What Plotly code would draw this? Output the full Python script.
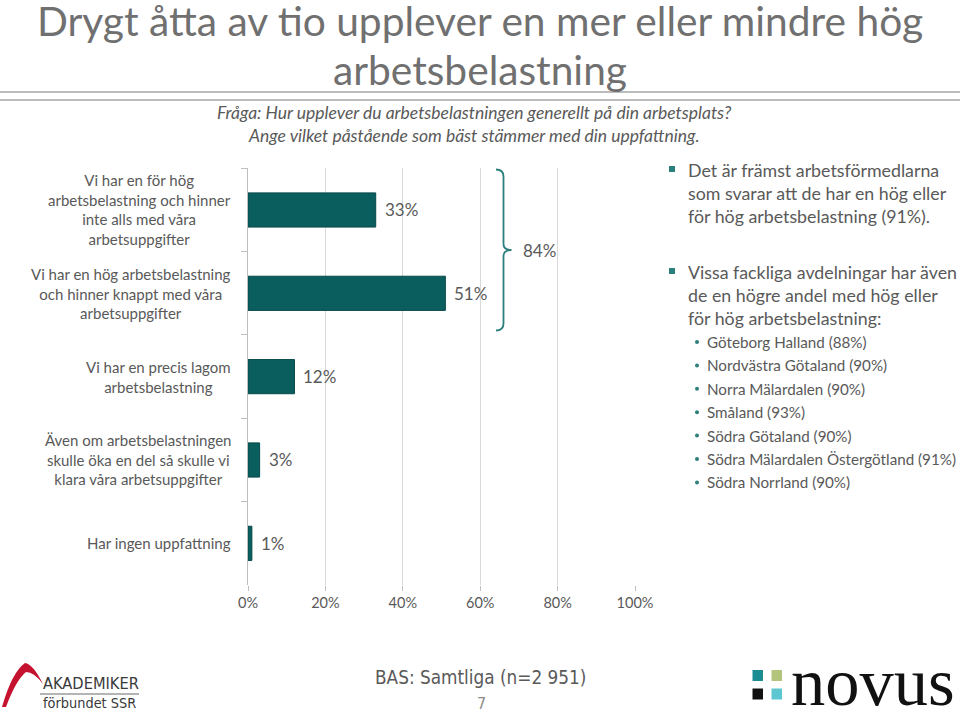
import plotly.graph_objects as go

W, H = 960, 714

categories = [
    "Vi har en för hög<br>arbetsbelastning och hinner<br>inte alls med våra<br>arbetsuppgifter",
    "Vi har en hög arbetsbelastning<br>och hinner knappt med våra<br>arbetsuppgifter",
    "Vi har en precis lagom<br>arbetsbelastning",
    "Även om arbetsbelastningen<br>skulle öka en del så skulle vi<br>klara våra arbetsuppgifter",
    "Har ingen uppfattning",
]
values = [33, 51, 12, 3, 1]
value_labels = ["33%", "51%", "12%", "3%", "1%"]
x_ticks = [0, 20, 40, 60, 80, 100]
x_tick_labels = ["0%", "20%", "40%", "60%", "80%", "100%"]
bracket_label = "84%"

title_lines = ["Drygt åtta av tio upplever en mer eller mindre hög", "arbetsbelastning"]
subtitle_lines = ["Fråga: Hur upplever du arbetsbelastningen generellt på din arbetsplats?",
                  "Ange vilket påstående som bäst stämmer med din uppfattning."]
bullet1 = ["Det är främst arbetsförmedlarna", "som svarar att de har en hög eller",
           "för hög arbetsbelastning (91%)."]
bullet2 = ["Vissa fackliga avdelningar har även", "de en högre andel med hög eller",
           "för hög arbetsbelastning:"]
sub_bullets = ["Göteborg Halland (88%)", "Nordvästra Götaland (90%)", "Norra Mälardalen (90%)",
               "Småland (93%)", "Södra Götaland (90%)", "Södra Mälardalen Östergötland (91%)",
               "Södra Norrland (90%)"]
base_text = "BAS: Samtliga (n=2 951)"
page_no = "7"

FONT = "Lato"
NARROW = "Liberation Sans Narrow, DejaVu Sans Condensed"
GRAY = "#595959"
TEAL = "#0B5E5E"
TEAL_LINE = "#074848"
ACCENT = "#2B7F7C"


def px(x):
    return x / W


def py(y):
    return 1 - y / H


fig = go.Figure()
fig.add_trace(go.Bar(
    x=values, y=categories, orientation="h",
    marker=dict(color=TEAL, line=dict(color=TEAL_LINE, width=1)),
    hoverinfo="skip", showlegend=False,
))

ann = []
shapes = []

# category labels (centered lines, right edge at the axis)
for c in categories:
    ann.append(dict(x=px(233), xref="paper", y=c, yref="y", text=c, showarrow=False,
                    xanchor="right", yanchor="middle", align="center",
                    font=dict(family=FONT, size=15, color=GRAY)))
# value labels
for c, v, t in zip(categories, values, value_labels):
    ann.append(dict(x=v, xref="x", y=c, yref="y", text=t, showarrow=False,
                    xanchor="left", yanchor="middle", xshift=7,
                    font=dict(family=FONT, size=17, color=GRAY)))

# title
for i, t in enumerate(title_lines):
    ann.append(dict(x=px(480), xref="paper", y=py(20 + 49.5 * i), yref="paper", text=t, showarrow=False,
                    xanchor="center", yanchor="middle",
                    font=dict(family=FONT, size=40.7, color="#707070")))
for yy in (92, 100):
    shapes.append(dict(type="line", xref="paper", yref="paper", x0=0, x1=1, y0=py(yy), y1=py(yy),
                       line=dict(color="#A6A6A6", width=1.5)))
for i, t in enumerate(subtitle_lines):
    ann.append(dict(x=px(474), xref="paper", y=py(112 + 23 * i), yref="paper",
                    text="<i>" + t + "</i>", showarrow=False, xanchor="center", yanchor="middle",
                    font=dict(family=FONT, size=17.5, color=GRAY)))

# bracket
bx, btop, bbot, bmid = 503.5, 169.5, 330.5, 250
path = (f"M {px(496)},{py(btop)} Q {px(bx)},{py(btop)} {px(bx)},{py(btop+7)} "
        f"L {px(bx)},{py(bmid-6)} Q {px(bx)},{py(bmid)} {px(511.5)},{py(bmid)} "
        f"Q {px(bx)},{py(bmid)} {px(bx)},{py(bmid+6)} "
        f"L {px(bx)},{py(bbot-7)} Q {px(bx)},{py(bbot)} {px(496)},{py(bbot)}")
shapes.append(dict(type="path", xref="paper", yref="paper", path=path,
                   line=dict(color=ACCENT, width=1.8)))
ann.append(dict(x=px(521), xref="paper", y=py(251), yref="paper", text=bracket_label,
                showarrow=False, xanchor="left", yanchor="middle",
                font=dict(family=FONT, size=17, color=GRAY)))

# right-hand text
for block, y0 in ((bullet1, 170), (bullet2, 272)):
    shapes.append(dict(type="rect", xref="paper", yref="paper", x0=px(669), x1=px(675),
                       y0=py(y0 + 2), y1=py(y0 - 4), fillcolor=ACCENT, line=dict(width=0)))
    for i, t in enumerate(block):
        ann.append(dict(x=px(686), xref="paper", y=py(y0 + 23 * i), yref="paper", text=t,
                        showarrow=False, xanchor="left", yanchor="middle",
                        font=dict(family=FONT, size=17.8, color=GRAY)))
for i, t in enumerate(sub_bullets):
    yy = 342 + 23.4 * i
    shapes.append(dict(type="circle", xref="paper", yref="paper", x0=px(695), x1=px(699),
                       y0=py(yy + 2), y1=py(yy - 2), fillcolor=ACCENT, line=dict(width=0)))
    ann.append(dict(x=px(705), xref="paper", y=py(yy), yref="paper", text=t,
                    showarrow=False, xanchor="left", yanchor="middle",
                    font=dict(family=FONT, size=15.2, color=GRAY)))

# footer
ann.append(dict(x=px(480), xref="paper", y=py(677), yref="paper", text=base_text, showarrow=False,
                xanchor="center", yanchor="middle",
                font=dict(family=NARROW, size=18.8, color=GRAY)))
ann.append(dict(x=px(481), xref="paper", y=py(703), yref="paper", text=page_no, showarrow=False,
                xanchor="center", yanchor="middle",
                font=dict(family=NARROW, size=16, color="#8C8C8C")))

# Akademiker logo
swoosh = (f"M {px(2)},{py(707)} Q {px(12)},{py(672)} {px(25)},{py(663)} "
          f"Q {px(33)},{py(664)} {px(43)},{py(684)} Q {px(34)},{py(672)} {px(26)},{py(672)} "
          f"Q {px(16)},{py(680)} {px(6)},{py(707)} Z")
shapes.append(dict(type="path", xref="paper", yref="paper", path=swoosh,
                   fillcolor="#C4122F", line=dict(width=0)))
ann.append(dict(x=px(41), xref="paper", y=py(683), yref="paper", text="AKADEMIKER", showarrow=False,
                xanchor="left", yanchor="middle",
                font=dict(family=NARROW, size=16.3, color="#3A3A3A")))
shapes.append(dict(type="line", xref="paper", yref="paper", x0=px(40), x1=px(139), y0=py(694), y1=py(694),
                   line=dict(color="#6A6A6A", width=1)))
ann.append(dict(x=px(41), xref="paper", y=py(703), yref="paper", text="förbundet SSR", showarrow=False,
                xanchor="left", yanchor="middle",
                font=dict(family=NARROW, size=14.4, color="#3A3A3A")))

# Novus logo
for (x0, y0, col) in ((752.5, 670, "#1B8C91"), (771.5, 670, "#B3C47C"),
                      (752.5, 688.5, "#111111"), (771.5, 688.5, "#5CC6D1")):
    shapes.append(dict(type="rect", xref="paper", yref="paper", x0=px(x0), x1=px(x0 + 10.5),
                       y0=py(y0 + 11), y1=py(y0), fillcolor=col, line=dict(width=0)))
ann.append(dict(x=px(789), xref="paper", y=py(682), yref="paper", text="novus", showarrow=False,
                xanchor="left", yanchor="middle",
                font=dict(family="Liberation Serif", size=68.5, color="#111111")))

fig.update_layout(
    width=W, height=H, autosize=False,
    margin=dict(l=0, r=0, t=0, b=0, pad=0, autoexpand=False),
    paper_bgcolor="white", plot_bgcolor="white",
    bargap=0.59,
    showlegend=False,
    annotations=ann, shapes=shapes,
    xaxis=dict(domain=[px(248), px(635)], range=[0, 100], tickvals=x_ticks, ticktext=x_tick_labels,
               showgrid=True, gridcolor="#D9D9D9", gridwidth=1, zeroline=False, showline=False,
               ticks="outside", ticklen=5, tickcolor="#BFBFBF", automargin=False,
               tickfont=dict(family=FONT, size=14.5, color=GRAY), fixedrange=True),
    yaxis=dict(domain=[py(585), py(168.3)], categoryorder="array", categoryarray=categories[::-1],
               showticklabels=False, showline=True, linecolor="#BFBFBF", linewidth=1,
               ticks="outside", ticklen=6, tickcolor="#BFBFBF", tickson="boundaries", automargin=False,
               showgrid=False, zeroline=False, fixedrange=True),
)

post = "document.body.style.margin='0';document.body.style.overflow='hidden';"
fig.write_html("out.html", config={"displayModeBar": False, "responsive": False},
               post_script=post)
